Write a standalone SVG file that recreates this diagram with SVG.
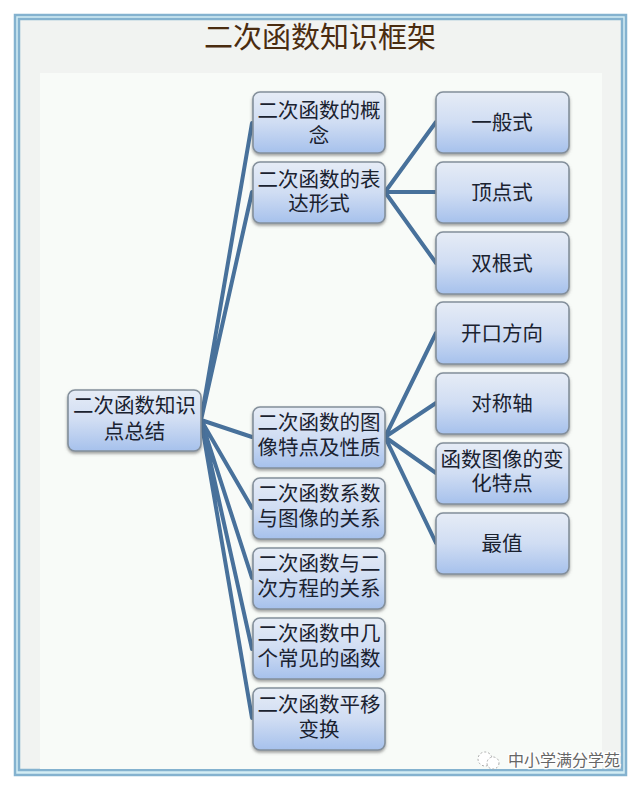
<svg xmlns="http://www.w3.org/2000/svg" width="640" height="789" viewBox="0 0 640 789">
<defs>
<linearGradient id="g" x1="0" y1="0" x2="0" y2="1"><stop offset="0" stop-color="#e6ecf6"/><stop offset="0.5" stop-color="#d0ddf3"/><stop offset="1" stop-color="#a6c1ec"/></linearGradient>
<filter id="s" x="-10%" y="-10%" width="120%" height="125%"><feDropShadow dx="0" dy="2" stdDeviation="1.6" flood-color="#555" flood-opacity="0.55"/></filter>
</defs>
<style>
text{font-family:"Liberation Sans","Noto Sans CJK SC",sans-serif;text-anchor:middle}
.n rect{fill:url(#g);stroke:#838f9b;stroke-width:1.6;filter:url(#s)}
.n text{font-size:20.5px;fill:#1a2230}
#connectors path{fill:none;stroke:#48719b;stroke-width:4;stroke-linecap:round}
</style>
<rect width="640" height="789" fill="#fff"/>
<rect x="15" y="15" width="611" height="760" fill="#d3edf4" stroke="#84b2cf" stroke-width="2.500"/>
<rect x="19" y="19" width="603" height="751" fill="#f1f3f1" stroke="#84b2cf" stroke-width="2.500"/>
<rect x="40" y="73" width="562" height="696" fill="#f8fbf8"/>
<text x="320" y="48" style="font-size:29px;fill:#4a2c10">二次函数知识框架</text>
<g id="connectors">
<path d="M201 420L252 123M201 420L252 192M201 420L252 437M201 420L252 508M201 420L252 578M201 420L252 649M201 420L252 718"/>
<path d="M385 192L436 122M385 192L436 192M385 192L436 263"/>
<path d="M385 437L436 333M385 437L436 403M385 437L436 473M385 437L436 543"/>
</g>
<g id="root" class="n"><rect x="68" y="390" width="133" height="61" rx="7"/><text x="134.500" y="413">二次函数知识<tspan x="134.500" dy="26">点总结</tspan></text></g>
<g id="a1" class="n"><rect x="253" y="92" width="132" height="61" rx="7"/><text x="319" y="118">二次函数的概<tspan x="319" dy="25">念</tspan></text></g>
<g id="a2" class="n"><rect x="253" y="162" width="132" height="61" rx="7"/><text x="319" y="187">二次函数的表<tspan x="319" dy="24">达形式</tspan></text></g>
<g id="a3" class="n"><rect x="253" y="407" width="132" height="61" rx="7"/><text x="319" y="430">二次函数的图<tspan x="319" dy="25">像特点及性质</tspan></text></g>
<g id="a4" class="n"><rect x="253" y="478" width="132" height="61" rx="7"/><text x="319" y="501">二次函数系数<tspan x="319" dy="25">与图像的关系</tspan></text></g>
<g id="a5" class="n"><rect x="253" y="548" width="132" height="61" rx="7"/><text x="319" y="571">二次函数与二<tspan x="319" dy="25">次方程的关系</tspan></text></g>
<g id="a6" class="n"><rect x="253" y="618" width="132" height="61" rx="7"/><text x="319" y="641">二次函数中几<tspan x="319" dy="25">个常见的函数</tspan></text></g>
<g id="a7" class="n"><rect x="253" y="688" width="132" height="62" rx="7"/><text x="319" y="712">二次函数平移<tspan x="319" dy="25">变换</tspan></text></g>
<g id="b1" class="n"><rect x="436" y="92" width="133" height="61" rx="7"/><text x="502" y="130">一般式</text></g>
<g id="b2" class="n"><rect x="436" y="162" width="133" height="61" rx="7"/><text x="502" y="200">顶点式</text></g>
<g id="b3" class="n"><rect x="436" y="232" width="133" height="62" rx="7"/><text x="502" y="271">双根式</text></g>
<g id="b4" class="n"><rect x="436" y="302" width="133" height="62" rx="7"/><text x="502" y="341">开口方向</text></g>
<g id="b5" class="n"><rect x="436" y="373" width="133" height="61" rx="7"/><text x="502" y="411">对称轴</text></g>
<g id="b6" class="n"><rect x="436" y="443" width="133" height="61" rx="7"/><text x="502" y="467">函数图像的变<tspan x="502" dy="24">化特点</tspan></text></g>
<g id="b7" class="n"><rect x="436" y="513" width="133" height="61" rx="7"/><text x="502" y="551">最值</text></g>
<circle cx="485" cy="759" r="7" fill="#fff" stroke="#aaa" stroke-width="1" stroke-dasharray="2 2"/>
<circle cx="493" cy="763" r="6" fill="#fff" stroke="#aaa" stroke-width="1" stroke-dasharray="2 2"/>
<text x="564" y="766" style="font-size:16px;fill:#666;stroke:#fff;stroke-width:2.500;paint-order:stroke">中小学满分学苑</text>
</svg>
